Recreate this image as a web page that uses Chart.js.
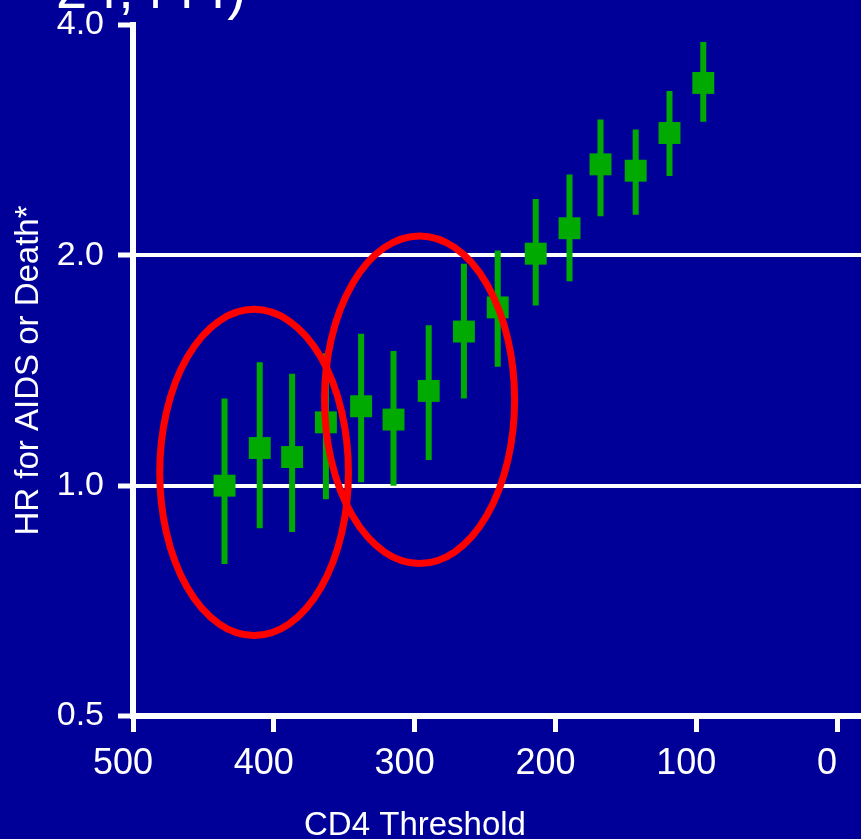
<!DOCTYPE html>
<html lang="en">

<head>
  <meta charset="UTF-8">
  <title>HR for AIDS or Death by CD4 Threshold</title>
  <script src="https://cdn.jsdelivr.net/npm/chart.js"></script>
  <style>
    html, body { margin: 0; padding: 0; background: #000099; overflow: hidden; }
  </style>
</head>

<body>

  <canvas id="hrChart" width="861" height="839"></canvas>

  <script>
    // CD4 threshold (cells/mm3) and hazard ratio with its 95% CI
    const cd4 = [435, 410, 387, 363, 338, 315, 290, 265, 241, 214, 190, 168, 143, 119, 95];
    const hr = [1.00, 1.12, 1.09, 1.21, 1.27, 1.22, 1.33, 1.59, 1.71, 2.01, 2.17, 2.63, 2.58, 2.89, 3.36];
    const hrLow = [0.79, 0.88, 0.87, 0.96, 1.01, 1.00, 1.08, 1.30, 1.43, 1.72, 1.85, 2.25, 2.26, 2.54, 2.99];
    const hrHigh = [1.30, 1.45, 1.40, 1.49, 1.58, 1.50, 1.62, 1.95, 2.03, 2.37, 2.55, 3.01, 2.92, 3.28, 3.80];

    const xTicks = [500, 400, 300, 200, 100, 0];
    const yTicks = [0.5, 1, 2, 4];

    // circled groups, in data units: [cd4 from, cd4 to, hr from, hr to]
    const circled = [
      [481, 347, 0.637, 1.70],
      [364, 229, 0.791, 2.12]
    ];

    const FONT = "'Liberation Sans', Arial, sans-serif";
    const GREEN = '#00aa00';

    const bars = [];
    cd4.forEach((c, i) => {
      bars.push({ x: c, y: hrLow[i] }, { x: c, y: hrHigh[i] }, { x: c, y: null });
    });

    const extras = {
      id: 'extras',
      afterDatasetsDraw(chart) {
        const { ctx, scales: { x, y } } = chart;
        ctx.save();
        ctx.strokeStyle = '#ff0000';
        ctx.lineWidth = 7;
        circled.forEach(([x0, x1, y0, y1]) => {
          const l = x.getPixelForValue(x0), r = x.getPixelForValue(x1);
          const b = y.getPixelForValue(y0), t = y.getPixelForValue(y1);
          ctx.beginPath();
          ctx.ellipse((l + r) / 2, (t + b) / 2, Math.abs(r - l) / 2, Math.abs(b - t) / 2, 0, 0, Math.PI * 2);
          ctx.stroke();
        });

        ctx.fillStyle = '#ffffff';
        ctx.textBaseline = 'alphabetic';
        ctx.textAlign = 'left';
        ctx.font = '56px ' + FONT;
        ctx.fillText('24,444)', 56, 8);

        ctx.textAlign = 'center';
        ctx.font = '33px ' + FONT;
        ctx.fillText('CD4 Threshold', 415, 835);
        ctx.restore();
      }
    };

    new Chart(document.getElementById('hrChart'), {
      type: 'line',
      data: {
        datasets: [{
          data: bars,
          borderColor: GREEN,
          borderWidth: 6,
          borderCapStyle: 'butt',
          pointRadius: 0,
          spanGaps: false
        }, {
          data: cd4.map((c, i) => ({ x: c, y: hr[i] })),
          showLine: false,
          pointStyle: 'rect',
          pointRadius: 15.5,
          pointBackgroundColor: GREEN,
          pointBorderWidth: 0
        }]
      },
      options: {
        responsive: false,
        animation: false,
        layout: { autoPadding: false, padding: { top: 25, left: 0, right: 0, bottom: 0 } },
        plugins: {
          legend: { display: false },
          tooltip: { enabled: false }
        },
        scales: {
          x: {
            type: 'linear',
            reverse: true,
            min: -17,
            max: 500,
            afterBuildTicks: s => { s.ticks = xTicks.map(v => ({ value: v })); },
            afterFit: s => { s.height = 123; s.paddingLeft = 0; s.paddingRight = 0; },
            border: { color: '#ffffff', width: 6 },
            grid: {
              drawOnChartArea: false,
              tickLength: 16,
              tickColor: '#ffffff',
              tickWidth: 5
            },
            ticks: {
              color: '#ffffff',
              font: { family: FONT, size: 36 },
              padding: 10,
              labelOffset: -10,
              maxRotation: 0
            }
          },
          y: {
            type: 'logarithmic',
            min: 0.5,
            max: 4,
            afterBuildTicks: s => { s.ticks = yTicks.map(v => ({ value: v })); },
            afterFit: s => { s.width = 133; s.paddingTop = 0; s.paddingBottom = 0; },
            border: { color: '#ffffff', width: 6 },
            grid: {
              color: c => (c.tick && (c.tick.value === 1 || c.tick.value === 2)) ? '#ffffff' : 'rgba(0,0,0,0)',
              lineWidth: 4,
              tickLength: 15,
              tickColor: '#ffffff',
              tickWidth: 5
            },
            ticks: {
              color: '#ffffff',
              font: { family: FONT, size: 34 },
              padding: 14,
              callback: v => Number(v).toFixed(1)
            },
            title: {
              display: true,
              text: 'HR for AIDS or Death*',
              color: '#ffffff',
              font: { family: FONT, size: 33 },
              padding: { top: 9, bottom: 0 }
            }
          }
        }
      },
      plugins: [extras]
    });
  </script>

</body>

</html>
